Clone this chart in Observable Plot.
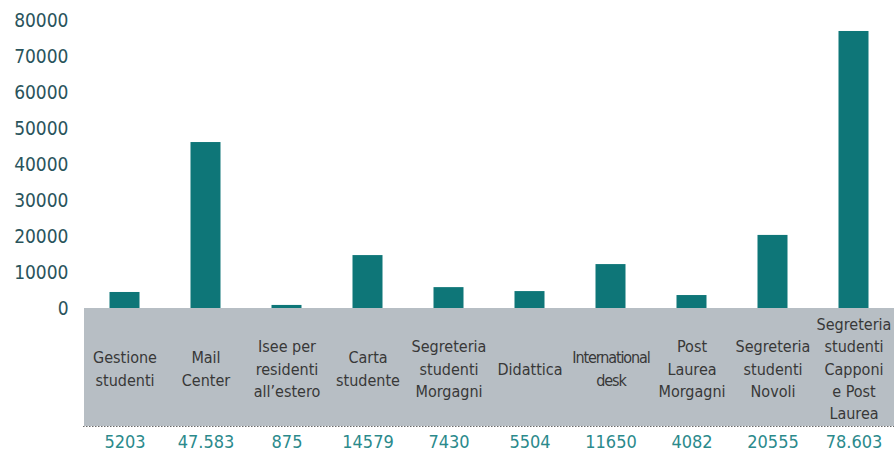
<!DOCTYPE html>
<html><head><meta charset="utf-8">
<script src="https://cdn.jsdelivr.net/npm/d3@7"></script>
<script src="https://cdn.jsdelivr.net/npm/@observablehq/plot@0.6"></script>
<style>body{margin:0;background:#fff}</style>
</head><body><div id="chart"></div>
<script>
const categories = [
  "Gestione\nstudenti",
  "Mail\nCenter",
  "Isee per\nresidenti\nall’estero",
  "Carta\nstudente",
  "Segreteria\nstudenti\nMorgagni",
  "Didattica",
  "International\ndesk",
  "Post\nLaurea\nMorgagni",
  "Segreteria\nstudenti\nNovoli",
  "Segreteria\nstudenti\nCapponi\ne Post\nLaurea"
];
// bar heights as drawn in the picture
const barValues = [4450, 46100, 850, 14700, 5800, 4700, 12200, 3600, 20300, 76950];
// values printed in the table row
const valueLabels = ["5203", "47.583", "875", "14579", "7430", "5504", "11650", "4082", "20555", "78.603"];
const yTicks = [0, 10000, 20000, 30000, 40000, 50000, 60000, 70000, 80000];

const FONT = "'DejaVu Sans Condensed', 'Roboto', sans-serif";
const TEAL = "#0e7678";
const GRAY = "#b7bec4";

const data = categories.map((c, i) => ({cat: c, bar: barValues[i], label: valueLabels[i]}));

const chart = Plot.plot({
  width: 894, height: 455,
  marginLeft: 83, marginRight: 0, marginTop: 20, marginBottom: 147,
  style: {fontFamily: FONT, fontSize: "19px", color: "#2a545c", background: "white", overflow: "visible"},
  x: {domain: categories, padding: 0, axis: null},
  y: {domain: [0, 80000]},
  marks: [
    Plot.barY(data, {x: "cat", y1: 0, y2: 0, insetBottom: -118, fill: GRAY, shapeRendering: "crispEdges"}),
    Plot.ruleY([0], {dy: 118, stroke: "#444", strokeDasharray: "1.5,1.5", strokeOpacity: 0.8}),
    Plot.barY(data, {x: "cat", y: "bar", fill: TEAL, insetLeft: 25.5, insetRight: 25.5}),
    Plot.axisY({ticks: yTicks, tickSize: 0, tickPadding: 15, tickFormat: d => String(d), label: null, fontSize: 19, fill: "#2a545c"}),
    Plot.text(data, {x: "cat", y: 0, text: "cat", dy: 59, lineAnchor: "middle", lineHeight: 1.4, fontSize: 16, fill: "#383838"}),
    Plot.text(data, {x: "cat", y: 0, text: "label", dy: 134, fontSize: 18, fill: "#2b8a8c"})
  ]
});
d3.select(chart).selectAll("text").filter(function() { return this.textContent.includes("International"); })
  .style("letter-spacing", "-0.07em");
document.getElementById("chart").appendChild(chart);
</script>
</body></html>
